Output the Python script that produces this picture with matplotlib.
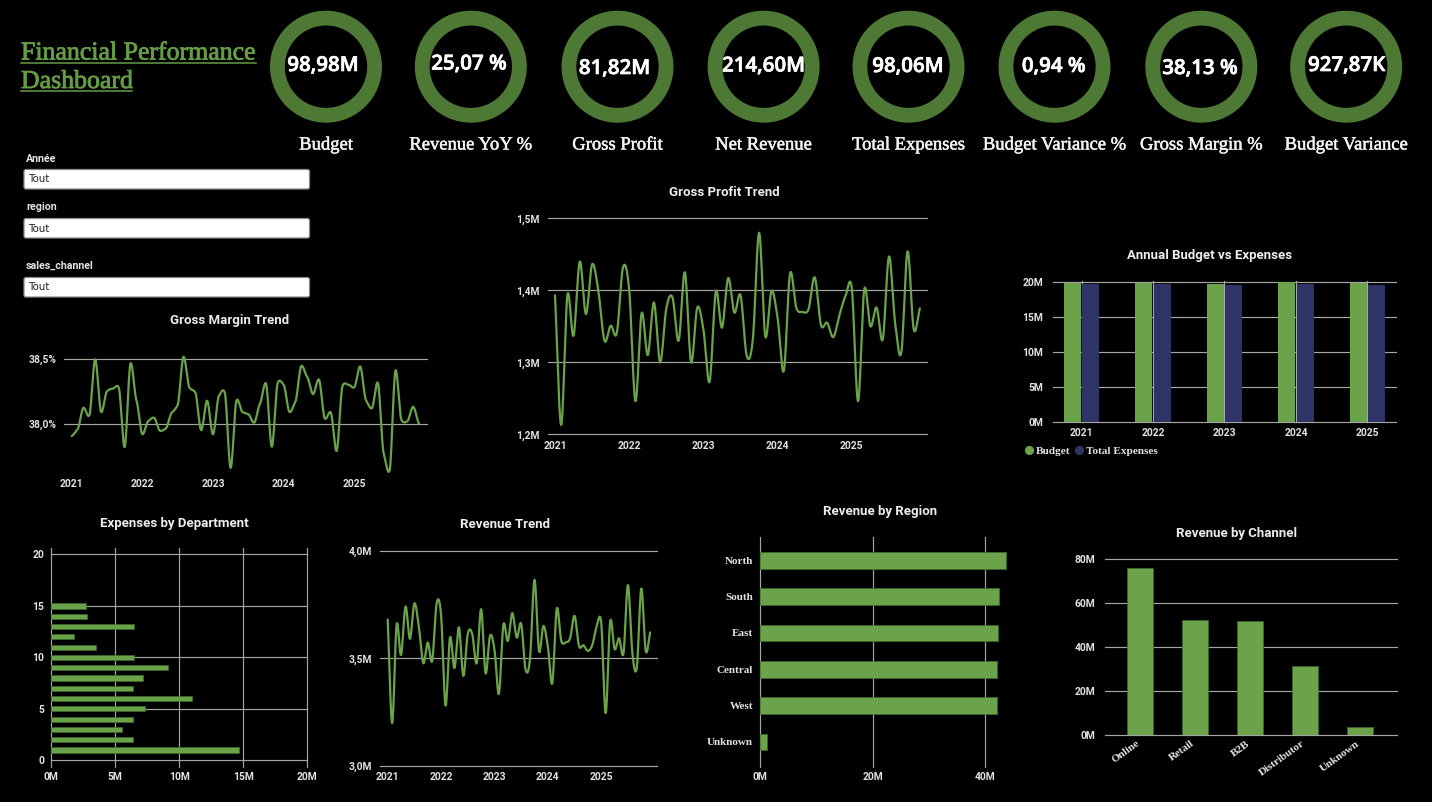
import numpy as np
import matplotlib
matplotlib.use("Agg")
import matplotlib.pyplot as plt
import matplotlib.patheffects as pe
from matplotlib.lines import Line2D
from matplotlib.patches import FancyBboxPatch
from matplotlib.transforms import ScaledTranslation

# ---------- data ----------
kpi_names = ["Budget", "Revenue YoY %", "Gross Profit", "Net Revenue", "Total Expenses",
             "Budget Variance %", "Gross Margin %", "Budget Variance"]
kpi_values = ["98,98M", "25,07 %", "81,82M", "214,60M", "98,06M", "0,94 %", "38,13 %", "927,87K"]

slicer_names = ["Année", "region", "sales_channel"]
slicer_values = ["Tout", "Tout", "Tout"]

years = [2021, 2022, 2023, 2024, 2025]

gross_profit = [1.393, 1.213, 1.393, 1.337, 1.440, 1.367, 1.436, 1.400, 1.330, 1.351, 1.341, 1.432,
                1.400, 1.246, 1.368, 1.310, 1.383, 1.300, 1.375, 1.390, 1.330, 1.425, 1.300, 1.376,
                1.345, 1.273, 1.398, 1.348, 1.417, 1.369, 1.393, 1.309, 1.333, 1.480, 1.336, 1.399,
                1.361, 1.288, 1.423, 1.376, 1.370, 1.374, 1.418, 1.352, 1.355, 1.335, 1.366, 1.393,
                1.402, 1.246, 1.401, 1.350, 1.376, 1.332, 1.447, 1.354, 1.314, 1.454, 1.346, 1.375]

gross_margin = [37.905, 37.956, 38.123, 38.064, 38.495, 38.090, 38.250, 38.270, 38.277, 37.820, 38.464, 38.180,
                37.920, 38.020, 38.046, 37.946, 37.964, 38.085, 38.144, 38.515, 38.277, 38.240, 37.950, 38.177,
                37.918, 38.213, 38.240, 37.660, 38.180, 38.090, 38.074, 38.008, 38.156, 38.310, 37.823, 38.315,
                38.300, 38.090, 38.170, 38.444, 38.360, 38.228, 38.340, 38.040, 38.087, 37.790, 38.290, 38.300,
                38.280, 38.440, 38.180, 38.120, 38.315, 37.770, 37.640, 38.410, 38.030, 38.018, 38.130, 38.000]

revenue = [3.680, 3.198, 3.655, 3.515, 3.740, 3.590, 3.755, 3.647, 3.477, 3.573, 3.488, 3.755,
           3.700, 3.280, 3.596, 3.454, 3.644, 3.418, 3.613, 3.613, 3.477, 3.728, 3.430, 3.604,
           3.540, 3.335, 3.655, 3.580, 3.710, 3.596, 3.660, 3.446, 3.500, 3.865, 3.534, 3.650,
           3.554, 3.384, 3.730, 3.582, 3.574, 3.593, 3.697, 3.557, 3.560, 3.534, 3.562, 3.650,
           3.663, 3.245, 3.670, 3.542, 3.593, 3.523, 3.840, 3.523, 3.458, 3.824, 3.534, 3.620]

annual_budget = [19.96, 19.85, 19.76, 20.00, 19.90]
annual_expenses = [19.76, 19.70, 19.62, 19.76, 19.67]

dept_ids = list(range(1, 16))
dept_expenses = [14.7, 6.37, 5.5, 6.4, 7.3, 11.03, 6.37, 7.17, 9.1, 6.43, 3.53, 1.8, 6.43, 2.75, 2.7]

regions = ["North", "South", "East", "Central", "West", "Unknown"]
region_revenue = [43.7, 42.43, 42.37, 42.2, 42.2, 1.2]

channels = ["Online", "Retail", "B2B", "Distributor", "Unknown"]
channel_revenue = [75.9, 52.3, 52.0, 31.5, 3.35]

# ---------- style ----------
W, H = 1432, 802
BG = "#000000"
GREEN = "#6BA34A"
RING = "#4E7934"
NAVY = "#2E3566"
GRID = "#A6A6A6"
TXT = "#E2E2E2"
TITLE_GREEN = "#659C45"
SANS = "Roboto"
SERIF = "Liberation Serif"

plt.rcParams["font.family"] = SANS
fig = plt.figure(figsize=(W / 100, H / 100), dpi=100, facecolor=BG)


def heavier(width, color):
    return [pe.withStroke(linewidth=width, foreground=color)]


def axes_px(x0, y0, x1, y1):
    ax = fig.add_axes([x0 / W, 1 - y1 / H, (x1 - x0) / W, (y1 - y0) / H], facecolor="none")
    for s in ax.spines.values():
        s.set_visible(False)
    ax.tick_params(length=0, labelcolor=TXT, labelsize=7.4)
    ax._px = (x0, y0, x1, y1)
    return ax


def style_ticks(ax, xpad, ypad, xfont=None, yfont=None):
    ax.tick_params(axis="x", pad=xpad)
    ax.tick_params(axis="y", pad=ypad)
    for lab in ax.get_xticklabels():
        lab.set_fontweight("bold")
        if xfont:
            lab.set_fontfamily(xfont[0]); lab.set_fontsize(xfont[1])
    for lab in ax.get_yticklabels():
        lab.set_fontweight("bold")
        if yfont:
            lab.set_fontfamily(yfont[0]); lab.set_fontsize(yfont[1])


def panel_title(ax, text, cx, cy):
    x0, y0, x1, y1 = ax._px
    ax.set_title(text, x=(cx - x0) / (x1 - x0), y=(y1 - cy) / (y1 - y0), color="#EDEDED",
                 fontsize=9.5, fontweight="bold", family=SANS, va="center", ha="center", pad=0)


def grid(ax, axis):
    ax.set_axisbelow(True)
    ax.grid(True, axis=axis, color=GRID, lw=0.85)
    lines = []
    if axis in ("y", "both"):
        lines += ax.get_ygridlines()
    if axis in ("x", "both"):
        lines += ax.get_xgridlines()
    for g in lines:
        g.set_clip_on(False)


def smooth(values, k, n=14):
    v = np.asarray(values, float)
    m = np.gradient(v) * k
    t = np.linspace(0, 1, n, endpoint=False)[:, None]
    h00 = 2 * t**3 - 3 * t**2 + 1
    h10 = t**3 - 2 * t**2 + t
    h01 = -2 * t**3 + 3 * t**2
    h11 = t**3 - t**2
    seg = h00 * v[:-1] + h10 * m[:-1] + h01 * v[1:] + h11 * m[1:]
    y = np.r_[seg.T.ravel(), v[-1]]
    x = np.r_[(np.arange(len(v) - 1)[None, :] + t).T.ravel(), len(v) - 1]
    return x, y


def trend(ax, values, ylim, yticks, fmt, title, tpos, xlim, k, xpad, ypad):
    x, y = smooth(values, k)
    ax.plot(x, y, color=GREEN, lw=1.6, clip_on=False, solid_capstyle="round")
    ax.set_xlim(*xlim)
    ax.set_ylim(*ylim)
    ax.set_yticks(yticks, [fmt(v) for v in yticks])
    ax.set_xticks([12 * i for i in range(len(years))], [str(v) for v in years])
    grid(ax, "y")
    style_ticks(ax, xpad, ypad)
    panel_title(ax, title, *tpos)


def comma(v, d=1, suf="M"):
    return f"{v:.{d}f}".replace(".", ",") + suf


# ---------- overlay: heading and slicers ----------
ov = fig.add_axes([0, 0, 1, 1], facecolor="none")
ov.set_xlim(0, W); ov.set_ylim(H, 0); ov.axis("off")
ov.text(21, 53.5, "Financial Performance ", color=TITLE_GREEN, fontsize=18.6, family=SERIF,
        va="center", ha="left", path_effects=heavier(0.6, TITLE_GREEN))
ov.text(21, 82, "Dashboard", color=TITLE_GREEN, fontsize=18.6, family=SERIF,
        va="center", ha="left", path_effects=heavier(0.6, TITLE_GREEN))
ov.plot([21, 256], [62.5, 62.5], color=TITLE_GREEN, lw=1.1)
ov.plot([21, 132], [91, 91], color=TITLE_GREEN, lw=1.1)

for name, val, ly, by in zip(slicer_names, slicer_values, [158.5, 207.5, 265.5], [169, 218, 277]):
    ov.text(26, ly, name, color="#E4E4E4", fontsize=7.7, fontweight="bold", va="center", ha="left")
    ov.add_patch(FancyBboxPatch((24, by + 0.5), 285.5, 19.5, boxstyle="round,pad=0,rounding_size=2",
                                fc="#FFFFFF", ec="#8A8A8A", lw=0.9))
    ov.text(28, by + 10.5, val, color="#222222", fontsize=7.4, family="DejaVu Sans", va="center", ha="left")

# ---------- KPI rings ----------
ring_x = [326, 470.8, 617.5, 763.6, 908.5, 1054.5, 1201.3, 1346.2]
text_x = [323, 469, 614.5, 763.6, 908, 1053.8, 1200, 1346.6]
text_y = [65.5, 64, 68.5, 66, 66.5, 66.5, 68.5, 65.5]
for cx, tx, ty, name, val in zip(ring_x, text_x, text_y, kpi_names, kpi_values):
    a = axes_px(cx - 56, 66.7 - 56, cx + 56, 66.7 + 56)
    a.pie([1], radius=1, colors=[RING], wedgeprops=dict(width=0.265))
    a.set_xlim(-1, 1); a.set_ylim(-1, 1)
    ov.text(tx, ty, val, color="white", fontsize=14.8, fontweight="semibold", family="Open Sans",
            va="center", ha="center", zorder=5, path_effects=heavier(0.5, "white"))
    ov.text(cx, 145, name, color="#F4F4F4", fontsize=13.4, family=SERIF, va="center", ha="center",
            path_effects=heavier(0.35, "#F4F4F4"))

# ---------- trends ----------
ax = axes_px(547.7, 218.3, 926.7, 434.3)
trend(ax, gross_profit, (1.2, 1.5), [1.2, 1.3, 1.4, 1.5], comma, "Gross Profit Trend", (724, 192),
      (-1.18, 60.1), 1.0, 4.5, 5.5)

ax = axes_px(64, 358.7, 426.7, 475.7)
trend(ax, gross_margin, (37.6, 38.5), [38.0, 38.5], lambda v: comma(v, 1, "%"), "Gross Margin Trend", (230, 320),
      (-1.3, 60.3), 0.45, 2.2, 5)

ax = axes_px(380, 550.7, 657.3, 765.7)
trend(ax, revenue, (3.0, 4.0), [3.0, 3.5, 4.0], comma, "Revenue Trend", (505, 525),
      (-1.73, 60.6), 1.0, 4.5, 5.5)

# ---------- annual budget vs expenses ----------
ax = axes_px(1052.7, 280.7, 1395.7, 422)
pos = np.arange(len(years))
ax.bar(pos - 0.128, annual_budget, 0.238, color=GREEN, label="Budget")
ax.bar(pos + 0.128, annual_expenses, 0.238, color=NAVY, label="Total Expenses")
ax.set_xlim(-0.406, 4.398); ax.set_ylim(0, 20.23)
ax.set_xticks(pos, [str(v) for v in years])
ax.set_yticks([0, 5, 10, 15, 20], ["0M", "5M", "10M", "15M", "20M"])
grid(ax, "both")
style_ticks(ax, 4, 7)
panel_title(ax, "Annual Budget vs Expenses", 1210, 256)
handles = [Line2D([], [], ls="", marker="o", ms=5.6, color=GREEN),
           Line2D([], [], ls="", marker="o", ms=5.6, color=NAVY)]
ax.legend(handles, ["Budget", "Total Expenses"], loc="center left", frameon=False, ncols=2,
          bbox_to_anchor=(1023 / W, 1 - 451 / H), bbox_transform=fig.transFigure,
          prop=dict(family=SERIF, weight="bold", size=8.1), labelcolor=TXT, handletextpad=0.1,
          columnspacing=0.3, borderaxespad=0, borderpad=0, handlelength=1.0)

# ---------- expenses by department ----------
ax = axes_px(51.3, 548, 307.3, 766.7)
ax.barh(dept_ids, dept_expenses, 0.5, color=GREEN, edgecolor="#3F6A2A", lw=0.5)
ax.set_xlim(0, 20); ax.set_ylim(-0.62, 20.63)
ax.set_xticks([0, 5, 10, 15, 20], ["0M", "5M", "10M", "15M", "20M"])
ax.set_yticks([0, 5, 10, 15, 20])
grid(ax, "both")
style_ticks(ax, 4, 5)
panel_title(ax, "Expenses by Department", 174.5, 524)

# ---------- revenue by region ----------
ax = axes_px(760, 536.7, 1006, 766.7)
ypos = np.arange(len(regions))
ax.barh(ypos, region_revenue, 0.46, color=GREEN, edgecolor="#3F6A2A", lw=0.5, clip_on=False)
ax.set_xlim(0, 43.73); ax.set_ylim(5.68, -0.65)
ax.set_xticks([0, 20, 40], ["0M", "20M", "40M"])
ax.set_yticks(ypos, regions)
grid(ax, "x")
style_ticks(ax, 4, 5, yfont=(SERIF, 8))
panel_title(ax, "Revenue by Region", 880, 512)

# ---------- revenue by channel ----------
ax = axes_px(1105, 559.3, 1396.7, 734.7)
cpos = np.arange(len(channels))
ax.bar(cpos, channel_revenue, 0.46, color=GREEN, edgecolor="#3F6A2A", lw=0.5)
ax.set_xlim(-0.636, 4.667); ax.set_ylim(0, 80)
ax.set_yticks([0, 20, 40, 60, 80], ["0M", "20M", "40M", "60M", "80M"])
ax.set_xticks(cpos, channels)
grid(ax, "y")
style_ticks(ax, 3, 7, xfont=(SERIF, 8))
shift = ScaledTranslation(-4 / 100, 0, fig.dpi_scale_trans)
for lab in ax.get_xticklabels():
    lab.set_rotation(36); lab.set_ha("right"); lab.set_rotation_mode("anchor")
    lab.set_transform(lab.get_transform() + shift)
panel_title(ax, "Revenue by Channel", 1237, 534)

fig.savefig("out.png", dpi=100, facecolor=BG)
